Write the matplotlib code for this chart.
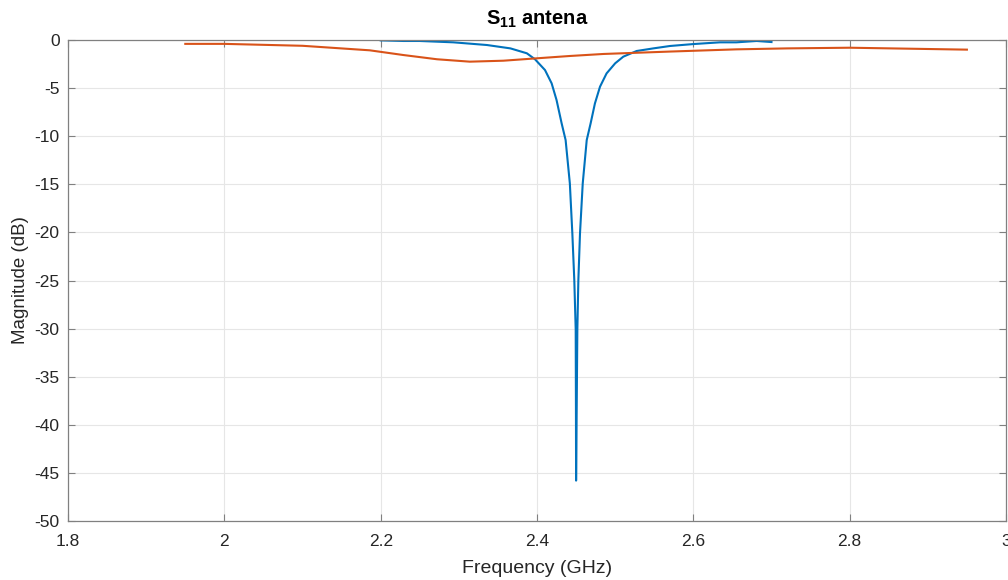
import numpy as np
import matplotlib
matplotlib.use("Agg")
import matplotlib.pyplot as plt

freq_meas = [2.200, 2.229, 2.250, 2.293, 2.336, 2.366, 2.387, 2.3974, 2.4102, 2.4187,
             2.425, 2.4315, 2.4366, 2.442, 2.4452, 2.4477, 2.4495, 2.4498, 2.4500,
             2.4508, 2.4516, 2.4529, 2.4550, 2.4585, 2.4636, 2.4686, 2.4741,
             2.4806, 2.4890, 2.5000, 2.5104, 2.5275, 2.5488, 2.5702,
             2.6000, 2.6340, 2.6550, 2.6810, 2.7000]
s11_meas = [-0.04, -0.10, -0.10, -0.24, -0.52, -0.87, -1.38, -2.00, -3.12, -4.50,
            -6.24, -8.66, -10.4, -14.9, -20.1, -24.95, -30.1, -38.0, -45.8,
            -38.0, -30.1, -24.95, -20.1, -14.9, -10.4, -8.66, -6.59,
            -4.85, -3.47, -2.42, -1.73, -1.14, -0.87, -0.62,
            -0.42, -0.24, -0.24, -0.10, -0.21]

# simulated S11 (orange)
freq_sim = [1.95, 2.00, 2.10, 2.186, 2.229, 2.272, 2.314, 2.357, 2.400, 2.442,
            2.485, 2.570, 2.655, 2.720, 2.800, 2.950]
s11_sim = [-0.40, -0.40, -0.60, -1.07, -1.56, -2.00, -2.25, -2.15, -1.90, -1.66,
           -1.45, -1.20, -0.97, -0.87, -0.80, -1.00]

xticks = [1.8, 2.0, 2.2, 2.4, 2.6, 2.8, 3.0]
xticklabels = ["1.8", "2", "2.2", "2.4", "2.6", "2.8", "3"]
yticks = [0, -5, -10, -15, -20, -25, -30, -35, -40, -45, -50]

plt.rcParams['font.family'] = ['Liberation Sans', 'DejaVu Sans']
plt.rcParams['mathtext.fontset'] = 'custom'
plt.rcParams['mathtext.rm'] = 'Liberation Sans'
plt.rcParams['mathtext.bf'] = 'Liberation Sans:bold'

fig = plt.figure(figsize=(10.08, 5.8), dpi=100)
ax = fig.add_axes([0.0675, 0.1017, 0.9305, 0.8293])

ax.plot(freq_meas, s11_meas, color='#0072BD', lw=1.5)
ax.plot(freq_sim, s11_sim, color='#D95319', lw=1.5)

ax.set_xlim(1.8, 3.0)
ax.set_ylim(-50, 0)
ax.set_xticks(xticks)
ax.set_xticklabels(xticklabels)
ax.set_yticks(yticks)
ax.set_yticklabels([str(t) for t in yticks])

ax.grid(True, color='#e6e6e6', lw=0.8)
ax.set_axisbelow(True)
for s in ax.spines.values():
    s.set_color('#808080')
    s.set_linewidth(0.9)
ax.tick_params(direction='in', length=5, color='#808080', labelsize=12.5,
               labelcolor='#262626', top=True, right=True)
ax.tick_params(axis='x', pad=9)
ax.tick_params(axis='y', pad=6)

ax.set_xlabel('Frequency (GHz)', fontsize=14, color='#262626', labelpad=8)
ax.set_ylabel('Magnitude (dB)', fontsize=13.5, color='#262626', labelpad=4)
ax.set_title(r'$\mathbf{S_{11}}$ antena', fontsize=14.5, fontweight='bold',
             color='black', pad=11)

fig.savefig('out.png', dpi=100)
